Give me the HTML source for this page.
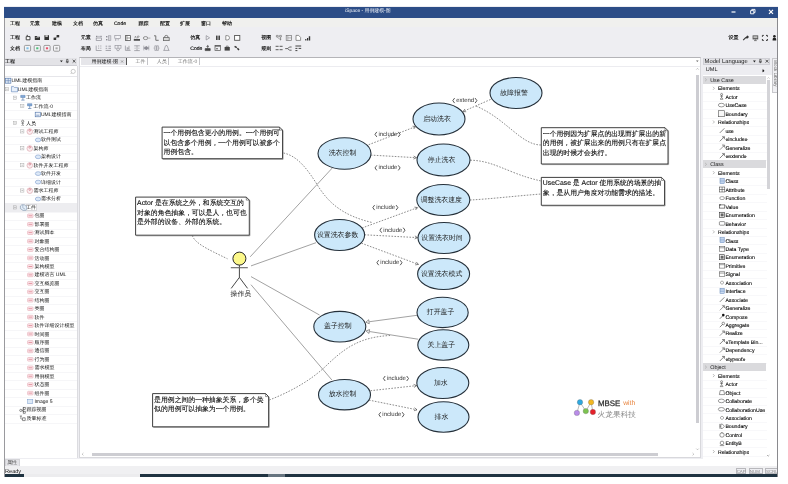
<!DOCTYPE html><html><head><meta charset="utf-8"><style>
*{margin:0;padding:0;box-sizing:border-box}
html,body{width:788px;height:484px;overflow:hidden;background:#fff;font-family:"Liberation Sans",sans-serif;color:#222;text-rendering:geometricPrecision}
.a{position:absolute;white-space:nowrap}
svg{position:absolute;left:0;top:0;overflow:visible}
</style></head><body><div style="position:absolute;left:0;top:0;width:788px;height:484px;will-change:transform">
<div class="a" style="left:4px;top:6px;width:774px;height:471px;background:#EEEEF2;"></div>
<div class="a" style="left:4px;top:6.6px;width:774.4px;height:11.2px;background:#2C4D87;"></div>
<div class="a" style="left:4px;top:18px;width:774px;height:9.2px;background:#F0F0EE;"></div>
<div class="a" style="left:345.2px;top:9.17px;font-size:4.9px;line-height:6.86px;color:#f4f6fa;font-weight:normal;">iSpace - 用例建模-图</div>
<div class="a" style="left:9.9px;top:21.20px;font-size:5px;line-height:7.00px;color:#111;font-weight:500;-webkit-text-stroke:0.15px #111">工程</div>
<div class="a" style="left:29.7px;top:21.20px;font-size:5px;line-height:7.00px;color:#111;font-weight:500;-webkit-text-stroke:0.15px #111">元素</div>
<div class="a" style="left:52px;top:21.20px;font-size:5px;line-height:7.00px;color:#111;font-weight:500;-webkit-text-stroke:0.15px #111">建模</div>
<div class="a" style="left:73px;top:21.20px;font-size:5px;line-height:7.00px;color:#111;font-weight:500;-webkit-text-stroke:0.15px #111">文档</div>
<div class="a" style="left:93px;top:21.20px;font-size:5px;line-height:7.00px;color:#111;font-weight:500;-webkit-text-stroke:0.15px #111">仿真</div>
<div class="a" style="left:114px;top:21.20px;font-size:5px;line-height:7.00px;color:#111;font-weight:500;-webkit-text-stroke:0.15px #111">Code</div>
<div class="a" style="left:138.6px;top:21.20px;font-size:5px;line-height:7.00px;color:#111;font-weight:500;-webkit-text-stroke:0.15px #111">跟踪</div>
<div class="a" style="left:160px;top:21.20px;font-size:5px;line-height:7.00px;color:#111;font-weight:500;-webkit-text-stroke:0.15px #111">配置</div>
<div class="a" style="left:180px;top:21.20px;font-size:5px;line-height:7.00px;color:#111;font-weight:500;-webkit-text-stroke:0.15px #111">扩展</div>
<div class="a" style="left:201px;top:21.20px;font-size:5px;line-height:7.00px;color:#111;font-weight:500;-webkit-text-stroke:0.15px #111">窗口</div>
<div class="a" style="left:222px;top:21.20px;font-size:5px;line-height:7.00px;color:#111;font-weight:500;-webkit-text-stroke:0.15px #111">帮助</div>
<div class="a" style="left:9.9px;top:35.10px;font-size:5px;line-height:7.00px;color:#111;font-weight:500;-webkit-text-stroke:0.15px #111">工程</div>
<div class="a" style="left:9.9px;top:45.80px;font-size:5px;line-height:7.00px;color:#111;font-weight:500;-webkit-text-stroke:0.15px #111">文档</div>
<div class="a" style="left:80.8px;top:35.10px;font-size:5px;line-height:7.00px;color:#111;font-weight:500;-webkit-text-stroke:0.15px #111">元素</div>
<div class="a" style="left:80.8px;top:45.80px;font-size:5px;line-height:7.00px;color:#111;font-weight:500;-webkit-text-stroke:0.15px #111">布局</div>
<div class="a" style="left:190.3px;top:35.10px;font-size:5px;line-height:7.00px;color:#111;font-weight:500;-webkit-text-stroke:0.15px #111">仿真</div>
<div class="a" style="left:190.3px;top:45.80px;font-size:5px;line-height:7.00px;color:#111;font-weight:500;-webkit-text-stroke:0.15px #111">Code</div>
<div class="a" style="left:261.3px;top:35.10px;font-size:5px;line-height:7.00px;color:#111;font-weight:500;-webkit-text-stroke:0.15px #111">视图</div>
<div class="a" style="left:261.3px;top:45.80px;font-size:5px;line-height:7.00px;color:#111;font-weight:500;-webkit-text-stroke:0.15px #111">规则</div>
<div class="a" style="left:728.5px;top:35.30px;font-size:5px;line-height:7.00px;color:#111;font-weight:500;-webkit-text-stroke:0.15px #111">设置</div>
<div class="a" style="left:5px;top:57.5px;width:72px;height:8px;background:#E3E3E7;border-bottom:1px solid #d0d0d6"></div>
<div class="a" style="left:5px;top:58.80px;font-size:5px;line-height:7.00px;color:#111;font-weight:500;-webkit-text-stroke:0.12px #111">工程</div>
<div class="a" style="left:5px;top:66px;width:72px;height:392px;background:#fff;"></div>
<div class="a" style="left:77px;top:66px;width:1px;height:392px;background:#dcdce0;"></div>
<div class="a" style="left:5px;top:76px;width:72px;height:0.6px;background:#e6e6ea;"></div>
<div class="a" style="left:5px;top:85.0px;width:72px;height:0.5px;background:#F6F6F8;"></div>
<div class="a" style="left:11.6px;top:78.30px;font-size:5px;line-height:7.00px;color:#111;font-weight:500;">UML建模指南</div>
<div class="a" style="left:5px;top:93.4px;width:72px;height:0.5px;background:#F6F6F8;"></div>
<div class="a" style="left:17.8px;top:86.74px;font-size:5px;line-height:7.00px;color:#111;font-weight:500;">UML建模指南</div>
<div class="a" style="left:5px;top:101.9px;width:72px;height:0.5px;background:#F6F6F8;"></div>
<div class="a" style="left:26px;top:95.18px;font-size:5px;line-height:7.00px;color:#111;font-weight:500;">工作流</div>
<div class="a" style="left:5px;top:110.3px;width:72px;height:0.5px;background:#F6F6F8;"></div>
<div class="a" style="left:33.5px;top:103.62px;font-size:5px;line-height:7.00px;color:#111;font-weight:500;">工作流-0</div>
<div class="a" style="left:5px;top:118.8px;width:72px;height:0.5px;background:#F6F6F8;"></div>
<div class="a" style="left:41px;top:112.06px;font-size:5px;line-height:7.00px;color:#111;font-weight:500;">UML建模指南</div>
<div class="a" style="left:5px;top:127.2px;width:72px;height:0.5px;background:#F6F6F8;"></div>
<div class="a" style="left:26px;top:120.50px;font-size:5px;line-height:7.00px;color:#111;font-weight:500;">人员</div>
<div class="a" style="left:5px;top:135.6px;width:72px;height:0.5px;background:#F6F6F8;"></div>
<div class="a" style="left:33.5px;top:128.94px;font-size:5px;line-height:7.00px;color:#111;font-weight:500;">测试工程师</div>
<div class="a" style="left:5px;top:144.1px;width:72px;height:0.5px;background:#F6F6F8;"></div>
<div class="a" style="left:41px;top:137.38px;font-size:5px;line-height:7.00px;color:#111;font-weight:500;">软件测试</div>
<div class="a" style="left:5px;top:152.5px;width:72px;height:0.5px;background:#F6F6F8;"></div>
<div class="a" style="left:33.5px;top:145.82px;font-size:5px;line-height:7.00px;color:#111;font-weight:500;">架构师</div>
<div class="a" style="left:5px;top:161.0px;width:72px;height:0.5px;background:#F6F6F8;"></div>
<div class="a" style="left:41px;top:154.26px;font-size:5px;line-height:7.00px;color:#111;font-weight:500;">架构设计</div>
<div class="a" style="left:5px;top:169.4px;width:72px;height:0.5px;background:#F6F6F8;"></div>
<div class="a" style="left:33.5px;top:162.70px;font-size:5px;line-height:7.00px;color:#111;font-weight:500;">软件开发工程师</div>
<div class="a" style="left:5px;top:177.8px;width:72px;height:0.5px;background:#F6F6F8;"></div>
<div class="a" style="left:41px;top:171.14px;font-size:5px;line-height:7.00px;color:#111;font-weight:500;">软件开发</div>
<div class="a" style="left:5px;top:186.3px;width:72px;height:0.5px;background:#F6F6F8;"></div>
<div class="a" style="left:41px;top:179.58px;font-size:5px;line-height:7.00px;color:#111;font-weight:500;">详细设计</div>
<div class="a" style="left:5px;top:194.7px;width:72px;height:0.5px;background:#F6F6F8;"></div>
<div class="a" style="left:33.5px;top:188.02px;font-size:5px;line-height:7.00px;color:#111;font-weight:500;">需求工程师</div>
<div class="a" style="left:5px;top:203.2px;width:72px;height:0.5px;background:#F6F6F8;"></div>
<div class="a" style="left:41px;top:196.46px;font-size:5px;line-height:7.00px;color:#111;font-weight:500;">需求分析</div>
<div class="a" style="left:5px;top:211.6px;width:72px;height:0.5px;background:#F6F6F8;"></div>
<div class="a" style="left:5px;top:203.2px;width:72px;height:8.4px;background:#EDEDF0;"></div>
<div class="a" style="left:26px;top:203.8px;width:11.2px;height:7.2px;background:#fff;border:0.5px solid #d8d8dc"></div>
<div class="a" style="left:26px;top:204.90px;font-size:5px;line-height:7.00px;color:#111;font-weight:500;">工件</div>
<div class="a" style="left:5px;top:220.0px;width:72px;height:0.5px;background:#F6F6F8;"></div>
<div class="a" style="left:34.4px;top:213.34px;font-size:5px;line-height:7.00px;color:#111;font-weight:500;">包图</div>
<div class="a" style="left:5px;top:228.5px;width:72px;height:0.5px;background:#F6F6F8;"></div>
<div class="a" style="left:34.4px;top:221.78px;font-size:5px;line-height:7.00px;color:#111;font-weight:500;">部署图</div>
<div class="a" style="left:5px;top:236.9px;width:72px;height:0.5px;background:#F6F6F8;"></div>
<div class="a" style="left:34.4px;top:230.22px;font-size:5px;line-height:7.00px;color:#111;font-weight:500;">测试脚本</div>
<div class="a" style="left:5px;top:245.4px;width:72px;height:0.5px;background:#F6F6F8;"></div>
<div class="a" style="left:34.4px;top:238.66px;font-size:5px;line-height:7.00px;color:#111;font-weight:500;">对象图</div>
<div class="a" style="left:5px;top:253.8px;width:72px;height:0.5px;background:#F6F6F8;"></div>
<div class="a" style="left:34.4px;top:247.10px;font-size:5px;line-height:7.00px;color:#111;font-weight:500;">复合结构图</div>
<div class="a" style="left:5px;top:262.2px;width:72px;height:0.5px;background:#F6F6F8;"></div>
<div class="a" style="left:34.4px;top:255.54px;font-size:5px;line-height:7.00px;color:#111;font-weight:500;">活动图</div>
<div class="a" style="left:5px;top:270.7px;width:72px;height:0.5px;background:#F6F6F8;"></div>
<div class="a" style="left:34.4px;top:263.98px;font-size:5px;line-height:7.00px;color:#111;font-weight:500;">架构模型</div>
<div class="a" style="left:5px;top:279.1px;width:72px;height:0.5px;background:#F6F6F8;"></div>
<div class="a" style="left:34.4px;top:272.42px;font-size:5px;line-height:7.00px;color:#111;font-weight:500;">建模语言 UML</div>
<div class="a" style="left:5px;top:287.6px;width:72px;height:0.5px;background:#F6F6F8;"></div>
<div class="a" style="left:34.4px;top:280.86px;font-size:5px;line-height:7.00px;color:#111;font-weight:500;">交互概览图</div>
<div class="a" style="left:5px;top:296.0px;width:72px;height:0.5px;background:#F6F6F8;"></div>
<div class="a" style="left:34.4px;top:289.30px;font-size:5px;line-height:7.00px;color:#111;font-weight:500;">交互图</div>
<div class="a" style="left:5px;top:304.4px;width:72px;height:0.5px;background:#F6F6F8;"></div>
<div class="a" style="left:34.4px;top:297.74px;font-size:5px;line-height:7.00px;color:#111;font-weight:500;">结构图</div>
<div class="a" style="left:5px;top:312.9px;width:72px;height:0.5px;background:#F6F6F8;"></div>
<div class="a" style="left:34.4px;top:306.18px;font-size:5px;line-height:7.00px;color:#111;font-weight:500;">类图</div>
<div class="a" style="left:5px;top:321.3px;width:72px;height:0.5px;background:#F6F6F8;"></div>
<div class="a" style="left:34.4px;top:314.62px;font-size:5px;line-height:7.00px;color:#111;font-weight:500;">软件</div>
<div class="a" style="left:5px;top:329.8px;width:72px;height:0.5px;background:#F6F6F8;"></div>
<div class="a" style="left:34.4px;top:323.06px;font-size:5px;line-height:7.00px;color:#111;font-weight:500;">软件详细设计模型</div>
<div class="a" style="left:5px;top:338.2px;width:72px;height:0.5px;background:#F6F6F8;"></div>
<div class="a" style="left:34.4px;top:331.50px;font-size:5px;line-height:7.00px;color:#111;font-weight:500;">时间图</div>
<div class="a" style="left:5px;top:346.6px;width:72px;height:0.5px;background:#F6F6F8;"></div>
<div class="a" style="left:34.4px;top:339.94px;font-size:5px;line-height:7.00px;color:#111;font-weight:500;">顺序图</div>
<div class="a" style="left:5px;top:355.1px;width:72px;height:0.5px;background:#F6F6F8;"></div>
<div class="a" style="left:34.4px;top:348.38px;font-size:5px;line-height:7.00px;color:#111;font-weight:500;">通信图</div>
<div class="a" style="left:5px;top:363.5px;width:72px;height:0.5px;background:#F6F6F8;"></div>
<div class="a" style="left:34.4px;top:356.82px;font-size:5px;line-height:7.00px;color:#111;font-weight:500;">行为图</div>
<div class="a" style="left:5px;top:372.0px;width:72px;height:0.5px;background:#F6F6F8;"></div>
<div class="a" style="left:34.4px;top:365.26px;font-size:5px;line-height:7.00px;color:#111;font-weight:500;">需求模型</div>
<div class="a" style="left:5px;top:380.4px;width:72px;height:0.5px;background:#F6F6F8;"></div>
<div class="a" style="left:34.4px;top:373.70px;font-size:5px;line-height:7.00px;color:#111;font-weight:500;">用例模型</div>
<div class="a" style="left:5px;top:388.8px;width:72px;height:0.5px;background:#F6F6F8;"></div>
<div class="a" style="left:34.4px;top:382.14px;font-size:5px;line-height:7.00px;color:#111;font-weight:500;">状态图</div>
<div class="a" style="left:5px;top:397.3px;width:72px;height:0.5px;background:#F6F6F8;"></div>
<div class="a" style="left:34.4px;top:390.58px;font-size:5px;line-height:7.00px;color:#111;font-weight:500;">组件图</div>
<div class="a" style="left:5px;top:405.7px;width:72px;height:0.5px;background:#F6F6F8;"></div>
<div class="a" style="left:34.4px;top:399.02px;font-size:5px;line-height:7.00px;color:#111;font-weight:500;">Image 5</div>
<div class="a" style="left:5px;top:414.2px;width:72px;height:0.5px;background:#F6F6F8;"></div>
<div class="a" style="left:26.5px;top:407.46px;font-size:5px;line-height:7.00px;color:#111;font-weight:500;">跟踪视图</div>
<div class="a" style="left:5px;top:422.6px;width:72px;height:0.5px;background:#F6F6F8;"></div>
<div class="a" style="left:26.5px;top:415.90px;font-size:5px;line-height:7.00px;color:#111;font-weight:500;">质量标准</div>
<div class="a" style="left:79.4px;top:56.6px;width:622px;height:401.4px;background:#fff;border:1px solid #d8d8dc;border-top:1px solid #b4b4b8"></div>
<div class="a" style="left:80.6px;top:57.7px;width:45.4px;height:7.6px;background:#E6E6EA;"></div>
<div class="a" style="left:91.6px;top:59.00px;font-size:5px;line-height:7.00px;color:#111;font-weight:500;">用例建模-图</div>
<div class="a" style="left:126px;top:57.7px;width:0.8px;height:7.6px;background:#555;"></div>
<div class="a" style="left:135.5px;top:59.00px;font-size:5px;line-height:7.00px;color:#777;font-weight:normal;">工件</div>
<div class="a" style="left:147px;top:58.2px;width:0.5px;height:6.6px;background:#c4c4c8;"></div>
<div class="a" style="left:156.8px;top:59.00px;font-size:5px;line-height:7.00px;color:#777;font-weight:normal;">人员</div>
<div class="a" style="left:168.2px;top:58.2px;width:0.5px;height:6.6px;background:#c4c4c8;"></div>
<div class="a" style="left:177.8px;top:59.00px;font-size:5px;line-height:7.00px;color:#777;font-weight:normal;">工作流-0</div>
<div class="a" style="left:199px;top:58.2px;width:0.5px;height:6.6px;background:#c4c4c8;"></div>
<div class="a" style="left:80.4px;top:65.6px;width:620px;height:0.6px;background:#ececf0;"></div>
<div class="a" style="left:696.2px;top:74.5px;width:2.8px;height:348.6px;background:#CDCDD2;"></div>
<div class="a" style="left:91.6px;top:452.8px;width:566.2px;height:2.8px;background:#CDCDD2;"></div>
<div class="a" style="left:702.6px;top:57.5px;width:67.8px;height:7.6px;background:#E3E3E7;border:1px solid #d0d0d6"></div>
<div class="a" style="left:704.6px;top:58.04px;font-size:5.8px;line-height:8.12px;color:#222;font-weight:normal;">Model Language</div>
<div class="a" style="left:702.6px;top:65.2px;width:67.8px;height:10px;background:#EDEDF1;"></div>
<div class="a" style="left:705.8px;top:67.28px;font-size:5.6px;line-height:7.84px;color:#222;font-weight:normal;">UML</div>
<div class="a" style="left:702.6px;top:75.3px;width:74.6px;height:391.5px;background:#fff;"></div>
<div class="a" style="left:766.7px;top:80.3px;width:2.9px;height:108.9px;background:#D4D4D8;"></div>
<div class="a" style="left:771.7px;top:57.5px;width:6.3px;height:35.7px;background:#F0F0F3;border:1px solid #c8c8cc"></div>
<div class="a" style="left:771.6px;top:58.5px;width:6.5px;height:34px;font-size:4.6px;line-height:6.3px;color:#666;writing-mode:vertical-rl;text-align:left;padding-top:1.5px">Block Library</div>
<div class="a" style="left:703.4px;top:75.5px;width:62.8px;height:8.4px;background:#DADADD;"></div>
<div class="a" style="left:710.2px;top:77.82px;font-size:5.4px;line-height:7.56px;color:#222;font-weight:normal;">Use Case</div>
<div class="a" style="left:703.2px;top:92.3px;width:63.4px;height:0.5px;background:#F8F8FA;"></div>
<div class="a" style="left:717.9px;top:86.41px;font-size:5.2px;line-height:7.28px;color:#000;font-weight:normal;-webkit-text-stroke:0.1px #000">Elements</div>
<div class="a" style="left:703.2px;top:100.8px;width:63.4px;height:0.5px;background:#F8F8FA;"></div>
<div class="a" style="left:725.4px;top:94.86px;font-size:5.2px;line-height:7.28px;color:#000;font-weight:normal;-webkit-text-stroke:0.1px #000">Actor</div>
<div class="a" style="left:703.2px;top:109.2px;width:63.4px;height:0.5px;background:#F8F8FA;"></div>
<div class="a" style="left:725.4px;top:103.31px;font-size:5.2px;line-height:7.28px;color:#000;font-weight:normal;-webkit-text-stroke:0.1px #000">UseCase</div>
<div class="a" style="left:703.2px;top:117.7px;width:63.4px;height:0.5px;background:#F8F8FA;"></div>
<div class="a" style="left:725.4px;top:111.76px;font-size:5.2px;line-height:7.28px;color:#000;font-weight:normal;-webkit-text-stroke:0.1px #000">Boundary</div>
<div class="a" style="left:703.2px;top:126.1px;width:63.4px;height:0.5px;background:#F8F8FA;"></div>
<div class="a" style="left:717.9px;top:120.21px;font-size:5.2px;line-height:7.28px;color:#000;font-weight:normal;-webkit-text-stroke:0.1px #000">Relationships</div>
<div class="a" style="left:703.2px;top:134.6px;width:63.4px;height:0.5px;background:#F8F8FA;"></div>
<div class="a" style="left:725.4px;top:128.66px;font-size:5.2px;line-height:7.28px;color:#000;font-weight:normal;-webkit-text-stroke:0.1px #000">use</div>
<div class="a" style="left:703.2px;top:143.0px;width:63.4px;height:0.5px;background:#F8F8FA;"></div>
<div class="a" style="left:725.4px;top:137.11px;font-size:5.2px;line-height:7.28px;color:#000;font-weight:normal;-webkit-text-stroke:0.1px #000">«include»</div>
<div class="a" style="left:703.2px;top:151.5px;width:63.4px;height:0.5px;background:#F8F8FA;"></div>
<div class="a" style="left:725.4px;top:145.56px;font-size:5.2px;line-height:7.28px;color:#000;font-weight:normal;-webkit-text-stroke:0.1px #000">Generalize</div>
<div class="a" style="left:703.2px;top:159.9px;width:63.4px;height:0.5px;background:#F8F8FA;"></div>
<div class="a" style="left:725.4px;top:154.01px;font-size:5.2px;line-height:7.28px;color:#000;font-weight:normal;-webkit-text-stroke:0.1px #000">«extend»</div>
<div class="a" style="left:703.4px;top:160.0px;width:62.8px;height:8.4px;background:#DADADD;"></div>
<div class="a" style="left:710.2px;top:162.32px;font-size:5.4px;line-height:7.56px;color:#222;font-weight:normal;">Class</div>
<div class="a" style="left:703.2px;top:176.8px;width:63.4px;height:0.5px;background:#F8F8FA;"></div>
<div class="a" style="left:717.9px;top:170.91px;font-size:5.2px;line-height:7.28px;color:#000;font-weight:normal;-webkit-text-stroke:0.1px #000">Elements</div>
<div class="a" style="left:703.2px;top:185.3px;width:63.4px;height:0.5px;background:#F8F8FA;"></div>
<div class="a" style="left:725.4px;top:179.36px;font-size:5.2px;line-height:7.28px;color:#000;font-weight:normal;-webkit-text-stroke:0.1px #000">Class</div>
<div class="a" style="left:703.2px;top:193.7px;width:63.4px;height:0.5px;background:#F8F8FA;"></div>
<div class="a" style="left:725.4px;top:187.81px;font-size:5.2px;line-height:7.28px;color:#000;font-weight:normal;-webkit-text-stroke:0.1px #000">Attribute</div>
<div class="a" style="left:703.2px;top:202.2px;width:63.4px;height:0.5px;background:#F8F8FA;"></div>
<div class="a" style="left:725.4px;top:196.26px;font-size:5.2px;line-height:7.28px;color:#000;font-weight:normal;-webkit-text-stroke:0.1px #000">Function</div>
<div class="a" style="left:703.2px;top:210.6px;width:63.4px;height:0.5px;background:#F8F8FA;"></div>
<div class="a" style="left:725.4px;top:204.71px;font-size:5.2px;line-height:7.28px;color:#000;font-weight:normal;-webkit-text-stroke:0.1px #000">Value</div>
<div class="a" style="left:703.2px;top:219.1px;width:63.4px;height:0.5px;background:#F8F8FA;"></div>
<div class="a" style="left:725.4px;top:213.16px;font-size:5.2px;line-height:7.28px;color:#000;font-weight:normal;-webkit-text-stroke:0.1px #000">Enumeration</div>
<div class="a" style="left:703.2px;top:227.5px;width:63.4px;height:0.5px;background:#F8F8FA;"></div>
<div class="a" style="left:725.4px;top:221.61px;font-size:5.2px;line-height:7.28px;color:#000;font-weight:normal;-webkit-text-stroke:0.1px #000">Behavior</div>
<div class="a" style="left:703.2px;top:236.0px;width:63.4px;height:0.5px;background:#F8F8FA;"></div>
<div class="a" style="left:717.9px;top:230.06px;font-size:5.2px;line-height:7.28px;color:#000;font-weight:normal;-webkit-text-stroke:0.1px #000">Relationships</div>
<div class="a" style="left:703.2px;top:244.4px;width:63.4px;height:0.5px;background:#F8F8FA;"></div>
<div class="a" style="left:725.4px;top:238.51px;font-size:5.2px;line-height:7.28px;color:#000;font-weight:normal;-webkit-text-stroke:0.1px #000">Class</div>
<div class="a" style="left:703.2px;top:252.9px;width:63.4px;height:0.5px;background:#F8F8FA;"></div>
<div class="a" style="left:725.4px;top:246.96px;font-size:5.2px;line-height:7.28px;color:#000;font-weight:normal;-webkit-text-stroke:0.1px #000">Data Type</div>
<div class="a" style="left:703.2px;top:261.4px;width:63.4px;height:0.5px;background:#F8F8FA;"></div>
<div class="a" style="left:725.4px;top:255.41px;font-size:5.2px;line-height:7.28px;color:#000;font-weight:normal;-webkit-text-stroke:0.1px #000">Enumeration</div>
<div class="a" style="left:703.2px;top:269.8px;width:63.4px;height:0.5px;background:#F8F8FA;"></div>
<div class="a" style="left:725.4px;top:263.86px;font-size:5.2px;line-height:7.28px;color:#000;font-weight:normal;-webkit-text-stroke:0.1px #000">Primitive</div>
<div class="a" style="left:703.2px;top:278.2px;width:63.4px;height:0.5px;background:#F8F8FA;"></div>
<div class="a" style="left:725.4px;top:272.31px;font-size:5.2px;line-height:7.28px;color:#000;font-weight:normal;-webkit-text-stroke:0.1px #000">Signal</div>
<div class="a" style="left:703.2px;top:286.7px;width:63.4px;height:0.5px;background:#F8F8FA;"></div>
<div class="a" style="left:725.4px;top:280.76px;font-size:5.2px;line-height:7.28px;color:#000;font-weight:normal;-webkit-text-stroke:0.1px #000">Association</div>
<div class="a" style="left:703.2px;top:295.1px;width:63.4px;height:0.5px;background:#F8F8FA;"></div>
<div class="a" style="left:725.4px;top:289.21px;font-size:5.2px;line-height:7.28px;color:#000;font-weight:normal;-webkit-text-stroke:0.1px #000">Interface</div>
<div class="a" style="left:703.2px;top:303.6px;width:63.4px;height:0.5px;background:#F8F8FA;"></div>
<div class="a" style="left:725.4px;top:297.66px;font-size:5.2px;line-height:7.28px;color:#000;font-weight:normal;-webkit-text-stroke:0.1px #000">Associate</div>
<div class="a" style="left:703.2px;top:312.1px;width:63.4px;height:0.5px;background:#F8F8FA;"></div>
<div class="a" style="left:725.4px;top:306.11px;font-size:5.2px;line-height:7.28px;color:#000;font-weight:normal;-webkit-text-stroke:0.1px #000">Generalize</div>
<div class="a" style="left:703.2px;top:320.5px;width:63.4px;height:0.5px;background:#F8F8FA;"></div>
<div class="a" style="left:725.4px;top:314.56px;font-size:5.2px;line-height:7.28px;color:#000;font-weight:normal;-webkit-text-stroke:0.1px #000">Compose</div>
<div class="a" style="left:703.2px;top:328.9px;width:63.4px;height:0.5px;background:#F8F8FA;"></div>
<div class="a" style="left:725.4px;top:323.01px;font-size:5.2px;line-height:7.28px;color:#000;font-weight:normal;-webkit-text-stroke:0.1px #000">Aggregate</div>
<div class="a" style="left:703.2px;top:337.4px;width:63.4px;height:0.5px;background:#F8F8FA;"></div>
<div class="a" style="left:725.4px;top:331.46px;font-size:5.2px;line-height:7.28px;color:#000;font-weight:normal;-webkit-text-stroke:0.1px #000">Realize</div>
<div class="a" style="left:703.2px;top:345.9px;width:63.4px;height:0.5px;background:#F8F8FA;"></div>
<div class="a" style="left:725.4px;top:339.91px;font-size:5.2px;line-height:7.28px;color:#000;font-weight:normal;-webkit-text-stroke:0.1px #000">«Template Bin...</div>
<div class="a" style="left:703.2px;top:354.3px;width:63.4px;height:0.5px;background:#F8F8FA;"></div>
<div class="a" style="left:725.4px;top:348.36px;font-size:5.2px;line-height:7.28px;color:#000;font-weight:normal;-webkit-text-stroke:0.1px #000">Dependency</div>
<div class="a" style="left:703.2px;top:362.8px;width:63.4px;height:0.5px;background:#F8F8FA;"></div>
<div class="a" style="left:725.4px;top:356.81px;font-size:5.2px;line-height:7.28px;color:#000;font-weight:normal;-webkit-text-stroke:0.1px #000">«typeof»</div>
<div class="a" style="left:703.4px;top:362.8px;width:62.8px;height:8.4px;background:#DADADD;"></div>
<div class="a" style="left:710.2px;top:365.12px;font-size:5.4px;line-height:7.56px;color:#222;font-weight:normal;">Object</div>
<div class="a" style="left:703.2px;top:379.7px;width:63.4px;height:0.5px;background:#F8F8FA;"></div>
<div class="a" style="left:717.9px;top:373.71px;font-size:5.2px;line-height:7.28px;color:#000;font-weight:normal;-webkit-text-stroke:0.1px #000">Elements</div>
<div class="a" style="left:703.2px;top:388.1px;width:63.4px;height:0.5px;background:#F8F8FA;"></div>
<div class="a" style="left:725.4px;top:382.16px;font-size:5.2px;line-height:7.28px;color:#000;font-weight:normal;-webkit-text-stroke:0.1px #000">Actor</div>
<div class="a" style="left:703.2px;top:396.6px;width:63.4px;height:0.5px;background:#F8F8FA;"></div>
<div class="a" style="left:725.4px;top:390.61px;font-size:5.2px;line-height:7.28px;color:#000;font-weight:normal;-webkit-text-stroke:0.1px #000">Object</div>
<div class="a" style="left:703.2px;top:405.0px;width:63.4px;height:0.5px;background:#F8F8FA;"></div>
<div class="a" style="left:725.4px;top:399.06px;font-size:5.2px;line-height:7.28px;color:#000;font-weight:normal;-webkit-text-stroke:0.1px #000">Collaborate</div>
<div class="a" style="left:703.2px;top:413.4px;width:63.4px;height:0.5px;background:#F8F8FA;"></div>
<div class="a" style="left:725.4px;top:407.51px;font-size:5.2px;line-height:7.28px;color:#000;font-weight:normal;-webkit-text-stroke:0.1px #000">CollaborationUse</div>
<div class="a" style="left:703.2px;top:421.9px;width:63.4px;height:0.5px;background:#F8F8FA;"></div>
<div class="a" style="left:725.4px;top:415.96px;font-size:5.2px;line-height:7.28px;color:#000;font-weight:normal;-webkit-text-stroke:0.1px #000">Association</div>
<div class="a" style="left:703.2px;top:430.4px;width:63.4px;height:0.5px;background:#F8F8FA;"></div>
<div class="a" style="left:725.4px;top:424.41px;font-size:5.2px;line-height:7.28px;color:#000;font-weight:normal;-webkit-text-stroke:0.1px #000">Boundary</div>
<div class="a" style="left:703.2px;top:438.8px;width:63.4px;height:0.5px;background:#F8F8FA;"></div>
<div class="a" style="left:725.4px;top:432.86px;font-size:5.2px;line-height:7.28px;color:#000;font-weight:normal;-webkit-text-stroke:0.1px #000">Control</div>
<div class="a" style="left:703.2px;top:447.2px;width:63.4px;height:0.5px;background:#F8F8FA;"></div>
<div class="a" style="left:725.4px;top:441.31px;font-size:5.2px;line-height:7.28px;color:#000;font-weight:normal;-webkit-text-stroke:0.1px #000">EntityB</div>
<div class="a" style="left:703.2px;top:455.7px;width:63.4px;height:0.5px;background:#F8F8FA;"></div>
<div class="a" style="left:717.9px;top:449.76px;font-size:5.2px;line-height:7.28px;color:#000;font-weight:normal;-webkit-text-stroke:0.1px #000">Relationships</div>
<div class="a" style="left:5px;top:458.6px;width:14.5px;height:7.6px;background:#E4E4E8;border:1px solid #d4d4d8;border-bottom:none"></div>
<div class="a" style="left:7px;top:459.90px;font-size:5px;line-height:7.00px;color:#555;font-weight:normal;">属性</div>
<div class="a" style="left:19.5px;top:458.6px;width:757.5px;height:7.6px;background:#fff;"></div>
<div class="a" style="left:5px;top:466.2px;width:772px;height:7.8px;background:#F0F0F2;"></div>
<div class="a" style="left:5px;top:469.28px;font-size:5.6px;line-height:7.84px;color:#222;font-weight:normal;">Ready</div>
<div class="a" style="left:735.5px;top:467.6px;width:10.899999999999977px;height:6.4px;background:#EEEEF2;border:0.6px solid #b8b8bc"></div>
<div class="a" style="left:736.7px;top:468.52px;font-size:4.4px;line-height:6.16px;color:#8a8a8a;font-weight:normal;">CAP</div>
<div class="a" style="left:748.6px;top:467.6px;width:14.5px;height:6.4px;background:#EEEEF2;border:0.6px solid #b8b8bc"></div>
<div class="a" style="left:749.8000000000001px;top:468.52px;font-size:4.4px;line-height:6.16px;color:#8a8a8a;font-weight:normal;">NUM</div>
<div class="a" style="left:764.8px;top:467.6px;width:12.800000000000068px;height:6.4px;background:#EEEEF2;border:0.6px solid #b8b8bc"></div>
<div class="a" style="left:766.0px;top:468.52px;font-size:4.4px;line-height:6.16px;color:#8a8a8a;font-weight:normal;">SCRL</div>
<div class="a" style="left:4px;top:473.8px;width:20px;height:3.4px;background:#1F3341;"></div>
<div class="a" style="left:24px;top:473.8px;width:116px;height:3.4px;background:#ECECEE;"></div>
<div class="a" style="left:140px;top:473.8px;width:128px;height:3.4px;background:#1F3341;"></div>
<div class="a" style="left:268px;top:473.8px;width:17px;height:3.4px;background:#66747F;"></div>
<div class="a" style="left:285px;top:473.8px;width:493.4px;height:3.4px;background:#1F3341;"></div>
<div class="a" style="left:4px;top:17.8px;width:1px;height:459.2px;background:#9a9a9e;"></div>
<div class="a" style="left:777.2px;top:17.8px;width:1.2px;height:459.2px;background:#8a8a8e;"></div>
<svg width="788" height="484"><line x1="731.5" y1="12" x2="735.5" y2="12" stroke="#fff" stroke-width="1.2"/><path d="M750.6 10.6 h3.2 v3.2 h-3.2z M751.8 10.6 v-1.2 h3.2 v3.2 h-1.2" fill="none" stroke="#fff" stroke-width="0.9"/><path d="M769 9.8 l4 4 M773 9.8 l-4 4" stroke="#fff" stroke-width="1.2"/><path d="M26.2 36.6 h3.8 v3.2 h-3.8z" fill="#fff" stroke="#333" stroke-width="0.9"/><path d="M26.6 35.4 h1.4" stroke="#333" stroke-width="0.8"/><path d="M34.8 36 h2 l0.6 0.7 h2.6 v3.2 h-5.2z" fill="#333"/><path d="M35.6 37.4 h3.6" stroke="#ddd" stroke-width="0.5"/><path d="M44.4 35.2 h4.6 v4.8 h-4.6z" fill="#333"/><rect x="45.4" y="35.2" width="2.4" height="1.7" fill="#d8d8d8"/><rect x="53.6" y="37.6" width="2.6" height="2.4" fill="#333"/><rect x="56.6" y="35" width="2.6" height="2.4" fill="#333"/><path d="M55.8 37.8 l1.2-1.2" stroke="#333" stroke-width="0.6"/><rect x="24.4" y="45.4" width="6.2" height="5.8" rx="1.1" fill="#f4f4f7" stroke="#777" stroke-width="0.7"/><rect x="26.4" y="47.3" width="2.2" height="2" fill="#7cc0e8"/><rect x="34.199999999999996" y="45.4" width="6.2" height="5.8" rx="1.1" fill="#f4f4f7" stroke="#777" stroke-width="0.7"/><rect x="36.199999999999996" y="47.3" width="2.2" height="2" fill="#4cbf7a"/><rect x="43.9" y="45.4" width="6.2" height="5.8" rx="1.1" fill="#f4f4f7" stroke="#777" stroke-width="0.7"/><rect x="45.9" y="47.3" width="2.2" height="2" fill="#e8506a"/><rect x="53.5" y="45.4" width="6.2" height="5.8" rx="1.1" fill="#f4f4f7" stroke="#777" stroke-width="0.7"/><rect x="55.5" y="47.3" width="2.2" height="2" fill="#aaa"/><rect x="96.2" y="38" width="5.4" height="2.6" fill="none" stroke="#8c8c94" stroke-width="0.7"/><rect x="96" y="35.8" width="1.3" height="1.3" fill="#8c8c94"/><rect x="100.4" y="35.8" width="1.3" height="1.3" fill="#8c8c94"/><path d="M97.3 36.4 h3.1" stroke="#8c8c94" stroke-width="0.5"/><rect x="106" y="36" width="1.4" height="1.4" fill="#8c8c94"/><rect x="106" y="39" width="1.4" height="1.4" fill="#8c8c94"/><rect x="108.4" y="35.8" width="2.5" height="4.8" fill="#d4d4da" stroke="#8c8c94" stroke-width="0.5"/><rect x="114.8" y="35.6" width="5.6" height="2.8" fill="none" stroke="#8c8c94" stroke-width="0.6"/><rect x="117" y="36.4" width="1.4" height="1.2" fill="#fff"/><path d="M115.2 39.8 h1.2 M117.6 39.8 h1.2 M115.6 40.6 v-1" stroke="#8c8c94" stroke-width="0.7"/><rect x="125.4" y="35.6" width="5" height="4.8" fill="#fff" stroke="#555" stroke-width="0.8"/><path d="M126.9 35.6 v4.8 M126.9 38 h3.5" stroke="#555" stroke-width="0.6"/><rect x="133.8" y="39.2" width="6.2" height="1.4" fill="#222"/><path d="M134.6 38.4 l0.9-2.4 l0.9 2.4 M137.6 38.4 v-2.4 h1 a0.6 0.6 0 0 1 0 1.2 h-1" fill="none" stroke="#666" stroke-width="0.5"/><ellipse cx="145.6" cy="38.1" rx="2.3" ry="1.5" fill="none" stroke="#777" stroke-width="0.8"/><path d="M148.4 38.1 h2" stroke="#999" stroke-width="0.8"/><path d="M154 35.8 h1.8 v4.5 h2.9" fill="none" stroke="#666" stroke-width="0.9"/><rect x="163.4" y="37.6" width="5.8" height="3" fill="#fff" stroke="#666" stroke-width="0.8"/><path d="M164.6 37.6 v-0.6 a1.7 1.6 0 0 1 3.4 0 v0.6" fill="none" stroke="#666" stroke-width="0.8"/><path d="M163.4 39 h5.8" stroke="#666" stroke-width="0.5"/><path d="M96.2 45.6 v5 M96.2 50.5 h5.4 M98 46 h1.2 M100.2 46 h1.2 M98 48.2 h1.2 M100.2 48.2 h1.2" fill="none" stroke="#8c8c94" stroke-width="0.7"/><path d="M105.6 46.2 h1.6 M108.4 46.2 h2.6 M105.6 48.3 h1.6 M108.4 48.3 h2.6 M105.6 50.4 h5.4" fill="none" stroke="#8c8c94" stroke-width="0.8"/><rect x="115" y="45.4" width="6" height="2.8" fill="none" stroke="#8c8c94" stroke-width="0.6"/><path d="M118 45.4 v2.8 M116.2 49.4 h1.2 M118.8 49.4 h1.2 M116.8 50.6 h2.4" stroke="#8c8c94" stroke-width="0.7"/><path d="M125.4 45.6 v4.8 h5.2 M127.2 47.2 v3 M129 45.8 v4.4 M127.2 48.2 h1.8" fill="none" stroke="#8c8c94" stroke-width="0.7"/><path d="M134.2 45.8 h5.6 M134.2 50.6 h5.6 M137 45.8 v4.8 M134.6 48.2 h1 M138.4 48.2 h1" fill="none" stroke="#8c8c94" stroke-width="0.7"/><path d="M143.8 45.6 v4.8 M148.8 45.6 v4.8 M143.8 48.1 l2.5-1.6 v3.2z M148.8 48.1 l-2.5-1.6 v3.2z" fill="#8c8c94" stroke="#8c8c94" stroke-width="0.6"/><path d="M153.6 48.1 h1 M158.6 48.1 h1 M154.8 45.8 h1.6 v4.6 h-1.6z M156.8 45.8 h1.6 v4.6 h-1.6z" fill="none" stroke="#8c8c94" stroke-width="0.6"/><path d="M163.4 50.4 h6 M164 50.4 l1.2-3.6 a1.2 1.2 0 0 1 2.4 0 l1.2 3.6 M166.4 45.2 v0.8" fill="none" stroke="#8c8c94" stroke-width="0.7"/><path d="M206.2 35.6 l3.4 2.2 l-3.4 2.2z" fill="none" stroke="#8a8a90" stroke-width="0.7"/><rect x="216" y="35.6" width="1.6" height="4.4" fill="#444"/><rect x="218.4" y="35.6" width="1.6" height="4.4" fill="#444"/><path d="M225.8 35.6 h1.4 a2.3 2.2 0 0 1 0 4.4 h-1.4z" fill="#fff" stroke="#777" stroke-width="0.8"/><rect x="234.6" y="35.5" width="5.2" height="4.8" fill="#fff" stroke="#555" stroke-width="0.9"/><path d="M205.2 50.6 h5 v-2 h-5z M207.7 48.6 v-2.8 M206.6 46.6 l1.1-1.1 l1.1 1.1" fill="#444" stroke="#444" stroke-width="0.7"/><rect x="215" y="45.4" width="5.4" height="5" fill="none" stroke="#555" stroke-width="0.7"/><rect x="215" y="45.4" width="5.4" height="1.2" fill="#555"/><rect x="216" y="48" width="2" height="1.4" fill="#888"/><rect x="224.6" y="47" width="5.2" height="3.6" fill="#444"/><path d="M226.2 47 v-0.9 h2 v0.9" fill="none" stroke="#444" stroke-width="0.6"/><path d="M234.6 46.4 l2.2 1.2 M237.4 48.2 l1.6 1.8" stroke="#333" stroke-width="1.5"/><path d="M276.4 35.4 h1.8 v1.6 h-1.8z M279.6 35.4 h1.8 v1.6 h-1.8z M280.5 37.2 v3.2 M277.6 37.2 l2 2 M279.6 39.2 h1.8" fill="none" stroke="#666" stroke-width="0.6"/><rect x="286.2" y="35.4" width="5.4" height="5" fill="none" stroke="#777" stroke-width="0.7"/><path d="M287.8 35.4 v5 M287.8 37.9 h3.8" stroke="#888" stroke-width="0.6"/><path d="M296 35.4 h2.6 l2 2 v3 h-4.6z" fill="#fff" stroke="#666" stroke-width="0.7"/><path d="M305.2 39 h1.2 v1.4 h-1.2z M307 38 h1.2 v2.4 h-1.2z M308.8 36.2 h1.4 v4.2 h-1.4z" fill="#333"/><path d="M275.6 46.4 h3 M279.6 46.4 h3 M275.6 49.6 h3 M279.6 49.6 h3" stroke="#777" stroke-width="1.3"/><path d="M285.2 48.6 h2.6 M287.8 48.6 l1.6-1.6 h2.2 M287.8 48.6 l1.6 1.6 h2.2" fill="none" stroke="#555" stroke-width="0.9"/><path d="M295.4 46 h5.8 M295.4 48.4 h2 M298.6 48.4 h2.6 M295.4 50.6 h2" fill="none" stroke="#444" stroke-width="1"/><path d="M743.2 40.2 l2.8-2.8" stroke="#333" stroke-width="1.1"/><path d="M745.6 37.6 a1.6 1.6 0 1 0 1.6-2.2 l-0.8 1 z" fill="#333"/><rect x="752.6" y="35.4" width="5.6" height="4" fill="#555"/><rect x="753.4" y="36.2" width="4" height="2" fill="#bbb"/><path d="M755.4 39.4 v1 M754 40.6 h2.8" stroke="#555" stroke-width="0.7"/><path d="M762.4 35.4 h1.4 M762.4 35.4 v1.4 M767.4 35.4 h-1.4 M767.4 35.4 v1.4 M762.4 40.4 h1.4 M762.4 40.4 v-1.4 M767.4 40.4 h-1.4 M767.4 40.4 v-1.4" stroke="#333" stroke-width="1"/><circle cx="774.4" cy="36.2" r="1.3" fill="#222"/><path d="M772.6 40.4 v-1.2 a1.8 1.6 0 0 1 3.6 0 v1.2z" fill="#222"/><path d="M60 60.5 h2.8 l-1.4 1.8z" fill="#222"/><path d="M66.6 59.4 h1.4 v2.6 h-1.4z M65.8 62 h3 M67.3 62 v1.2" fill="none" stroke="#333" stroke-width="0.6"/><path d="M72.7 59.8 l2.8 2.8 M75.5 59.8 l-2.8 2.8" stroke="#333" stroke-width="0.8"/><circle cx="73.2" cy="71.4" r="2.1" fill="none" stroke="#aaa" stroke-width="0.6"/><path d="M71.7 72.9 l-1 1" stroke="#aaa" stroke-width="0.7"/><rect x="5.5" y="78.2" width="5.4" height="5" fill="#dfe9f6" stroke="#4a6fa5" stroke-width="0.6"/><path d="M8.2 78.2 v5 M5.5 80.7 h5.4" stroke="#4a6fa5" stroke-width="0.5"/><rect x="5.4" y="87.6" width="3.2" height="3.2" fill="none" stroke="#aaa" stroke-width="0.5"/><path d="M6.1 89.2 h1.8" stroke="#888" stroke-width="0.5"/><path d="M11.4 86.6 h2.2 l0.8 0.8 h3.2 v4.4 h-6.2z" fill="#e8f0fa" stroke="#5a7fb5" stroke-width="0.6"/><rect x="13.4" y="96.1" width="3.2" height="3.2" fill="none" stroke="#aaa" stroke-width="0.5"/><path d="M14.1 97.7 h1.8" stroke="#888" stroke-width="0.5"/><path d="M20.7 95.3 h4.4 v2.2 h-4.4z" fill="#7fa8d8" stroke="#4a6fa5" stroke-width="0.4"/><path d="M22.9 97.5 v2.6 M21.2 100.1 h3.4" stroke="#4a6fa5" stroke-width="0.6"/><rect x="20.7" y="104.5" width="3.2" height="3.2" fill="none" stroke="#aaa" stroke-width="0.5"/><path d="M21.400000000000002 106.1 h1.8" stroke="#888" stroke-width="0.5"/><path d="M27.5 103.7 h4.4 v2.2 h-4.4z" fill="#7fa8d8" stroke="#4a6fa5" stroke-width="0.4"/><path d="M29.7 105.9 v2.6 M28 108.5 h3.4" stroke="#4a6fa5" stroke-width="0.6"/><rect x="35.2" y="112.2" width="5.2" height="4.6" fill="#eef3fb" stroke="#4a6fa5" stroke-width="0.6"/><path d="M36.2 115.2 h3.2" stroke="#4a6fa5" stroke-width="0.6"/><rect x="13.4" y="121.4" width="3.2" height="3.2" fill="none" stroke="#aaa" stroke-width="0.5"/><path d="M14.1 123.0 h1.8" stroke="#888" stroke-width="0.5"/><circle cx="22.7" cy="121.2" r="1.1" fill="none" stroke="#555" stroke-width="0.6"/><path d="M22.7 122.3 v2.4 M21.4 123.2 h2.6 M22.7 124.7 l-1 1.2 M22.7 124.7 l1 1.2" stroke="#555" stroke-width="0.6" fill="none"/><rect x="20.7" y="129.8" width="3.2" height="3.2" fill="none" stroke="#aaa" stroke-width="0.5"/><path d="M21.400000000000002 131.4 h1.8" stroke="#888" stroke-width="0.5"/><circle cx="29.8" cy="131.6" r="2.8" fill="#fbeef0" stroke="#d9a0a8" stroke-width="0.6"/><circle cx="29.8" cy="130.4" r="0.9" fill="none" stroke="#c05060" stroke-width="0.5"/><ellipse cx="38.1" cy="139.9" rx="2.8" ry="1.9" fill="#dde9f7" stroke="#7d9ccc" stroke-width="0.6"/><rect x="20.7" y="146.7" width="3.2" height="3.2" fill="none" stroke="#aaa" stroke-width="0.5"/><path d="M21.400000000000002 148.3 h1.8" stroke="#888" stroke-width="0.5"/><circle cx="29.8" cy="148.5" r="2.8" fill="#fbeef0" stroke="#d9a0a8" stroke-width="0.6"/><circle cx="29.8" cy="147.3" r="0.9" fill="none" stroke="#c05060" stroke-width="0.5"/><ellipse cx="38.1" cy="156.8" rx="2.8" ry="1.9" fill="#dde9f7" stroke="#7d9ccc" stroke-width="0.6"/><rect x="20.7" y="163.6" width="3.2" height="3.2" fill="none" stroke="#aaa" stroke-width="0.5"/><path d="M21.400000000000002 165.2 h1.8" stroke="#888" stroke-width="0.5"/><circle cx="29.8" cy="165.4" r="2.8" fill="#fbeef0" stroke="#d9a0a8" stroke-width="0.6"/><circle cx="29.8" cy="164.2" r="0.9" fill="none" stroke="#c05060" stroke-width="0.5"/><ellipse cx="38.1" cy="173.6" rx="2.8" ry="1.9" fill="#dde9f7" stroke="#7d9ccc" stroke-width="0.6"/><ellipse cx="38.1" cy="182.1" rx="2.8" ry="1.9" fill="#dde9f7" stroke="#7d9ccc" stroke-width="0.6"/><rect x="20.7" y="188.9" width="3.2" height="3.2" fill="none" stroke="#aaa" stroke-width="0.5"/><path d="M21.400000000000002 190.5 h1.8" stroke="#888" stroke-width="0.5"/><circle cx="29.8" cy="190.7" r="2.8" fill="#fbeef0" stroke="#d9a0a8" stroke-width="0.6"/><circle cx="29.8" cy="189.5" r="0.9" fill="none" stroke="#c05060" stroke-width="0.5"/><ellipse cx="38.1" cy="199.0" rx="2.8" ry="1.9" fill="#dde9f7" stroke="#7d9ccc" stroke-width="0.6"/><rect x="13.4" y="205.8" width="3.2" height="3.2" fill="none" stroke="#aaa" stroke-width="0.5"/><path d="M14.1 207.4 h1.8" stroke="#888" stroke-width="0.5"/><path d="M21.8 204.8 h2.6 l2.4 2 v2.6 l-1 1 h-2.8 l-2.6-1.8 v-2.6z" fill="#e4eef8" stroke="#7a8ea8" stroke-width="0.6"/><path d="M22.8 204.8 v3 l2.6 1.6" fill="none" stroke="#7a8ea8" stroke-width="0.5"/><rect x="27.6" y="214.0" width="5.4" height="3.6" rx="0.7" fill="#fbeef0" stroke="#e6a8b2" stroke-width="0.6"/><path d="M28.5 215.8 h3.6" stroke="#e07a8a" stroke-width="0.8"/><rect x="27.6" y="222.5" width="5.4" height="3.6" rx="0.7" fill="#fbeef0" stroke="#e6a8b2" stroke-width="0.6"/><path d="M28.5 224.3 h3.6" stroke="#e07a8a" stroke-width="0.8"/><rect x="27.6" y="230.9" width="5.4" height="3.6" rx="0.7" fill="#fbeef0" stroke="#e6a8b2" stroke-width="0.6"/><path d="M28.5 232.7 h3.6" stroke="#e07a8a" stroke-width="0.8"/><rect x="27.6" y="239.4" width="5.4" height="3.6" rx="0.7" fill="#fbeef0" stroke="#e6a8b2" stroke-width="0.6"/><path d="M28.5 241.2 h3.6" stroke="#e07a8a" stroke-width="0.8"/><rect x="27.6" y="247.8" width="5.4" height="3.6" rx="0.7" fill="#fbeef0" stroke="#e6a8b2" stroke-width="0.6"/><path d="M28.5 249.6 h3.6" stroke="#e07a8a" stroke-width="0.8"/><rect x="27.6" y="256.2" width="5.4" height="3.6" rx="0.7" fill="#fbeef0" stroke="#e6a8b2" stroke-width="0.6"/><path d="M28.5 258.0 h3.6" stroke="#e07a8a" stroke-width="0.8"/><rect x="27.6" y="264.7" width="5.4" height="3.6" rx="0.7" fill="#fbeef0" stroke="#e6a8b2" stroke-width="0.6"/><path d="M28.5 266.5 h3.6" stroke="#e07a8a" stroke-width="0.8"/><rect x="27.6" y="273.1" width="5.4" height="3.6" rx="0.7" fill="#fbeef0" stroke="#e6a8b2" stroke-width="0.6"/><path d="M28.5 274.9 h3.6" stroke="#e07a8a" stroke-width="0.8"/><rect x="27.6" y="281.6" width="5.4" height="3.6" rx="0.7" fill="#fbeef0" stroke="#e6a8b2" stroke-width="0.6"/><path d="M28.5 283.4 h3.6" stroke="#e07a8a" stroke-width="0.8"/><rect x="27.6" y="290.0" width="5.4" height="3.6" rx="0.7" fill="#fbeef0" stroke="#e6a8b2" stroke-width="0.6"/><path d="M28.5 291.8 h3.6" stroke="#e07a8a" stroke-width="0.8"/><rect x="27.6" y="298.4" width="5.4" height="3.6" rx="0.7" fill="#fbeef0" stroke="#e6a8b2" stroke-width="0.6"/><path d="M28.5 300.2 h3.6" stroke="#e07a8a" stroke-width="0.8"/><rect x="27.6" y="306.9" width="5.4" height="3.6" rx="0.7" fill="#fbeef0" stroke="#e6a8b2" stroke-width="0.6"/><path d="M28.5 308.7 h3.6" stroke="#e07a8a" stroke-width="0.8"/><rect x="27.6" y="315.3" width="5.4" height="3.6" rx="0.7" fill="#fbeef0" stroke="#e6a8b2" stroke-width="0.6"/><path d="M28.5 317.1 h3.6" stroke="#e07a8a" stroke-width="0.8"/><rect x="27.6" y="323.8" width="5.4" height="3.6" rx="0.7" fill="#fbeef0" stroke="#e6a8b2" stroke-width="0.6"/><path d="M28.5 325.6 h3.6" stroke="#e07a8a" stroke-width="0.8"/><rect x="27.6" y="332.2" width="5.4" height="3.6" rx="0.7" fill="#fbeef0" stroke="#e6a8b2" stroke-width="0.6"/><path d="M28.5 334.0 h3.6" stroke="#e07a8a" stroke-width="0.8"/><rect x="27.6" y="340.6" width="5.4" height="3.6" rx="0.7" fill="#fbeef0" stroke="#e6a8b2" stroke-width="0.6"/><path d="M28.5 342.4 h3.6" stroke="#e07a8a" stroke-width="0.8"/><rect x="27.6" y="349.1" width="5.4" height="3.6" rx="0.7" fill="#fbeef0" stroke="#e6a8b2" stroke-width="0.6"/><path d="M28.5 350.9 h3.6" stroke="#e07a8a" stroke-width="0.8"/><rect x="27.6" y="357.5" width="5.4" height="3.6" rx="0.7" fill="#fbeef0" stroke="#e6a8b2" stroke-width="0.6"/><path d="M28.5 359.3 h3.6" stroke="#e07a8a" stroke-width="0.8"/><rect x="27.6" y="366.0" width="5.4" height="3.6" rx="0.7" fill="#fbeef0" stroke="#e6a8b2" stroke-width="0.6"/><path d="M28.5 367.8 h3.6" stroke="#e07a8a" stroke-width="0.8"/><rect x="27.6" y="374.4" width="5.4" height="3.6" rx="0.7" fill="#fbeef0" stroke="#e6a8b2" stroke-width="0.6"/><path d="M28.5 376.2 h3.6" stroke="#e07a8a" stroke-width="0.8"/><rect x="27.6" y="382.8" width="5.4" height="3.6" rx="0.7" fill="#fbeef0" stroke="#e6a8b2" stroke-width="0.6"/><path d="M28.5 384.6 h3.6" stroke="#e07a8a" stroke-width="0.8"/><rect x="27.6" y="391.3" width="5.4" height="3.6" rx="0.7" fill="#fbeef0" stroke="#e6a8b2" stroke-width="0.6"/><path d="M28.5 393.1 h3.6" stroke="#e07a8a" stroke-width="0.8"/><rect x="27.6" y="399.3" width="5.2" height="4.4" fill="#dce8f5" stroke="#7a9ccc" stroke-width="0.5"/><circle cx="20.8" cy="410.4" r="1.1" fill="none" stroke="#444" stroke-width="0.6"/><rect x="23.2" y="407.4" width="2" height="2" fill="none" stroke="#444" stroke-width="0.6"/><rect x="23.2" y="411.2" width="2" height="2" fill="none" stroke="#444" stroke-width="0.6"/><path d="M21.900000000000002 410.4 h1.3 M23.2 408.4 v3.8" stroke="#444" stroke-width="0.6"/><path d="M19.8 416.0 h2.2 M20.900000000000002 416.0 v3 M22.6 417.8 h2.6 v2.8 h-2.6z M22.6 419.2 h-1.2" fill="none" stroke="#444" stroke-width="0.6"/><path d="M121 60.4 l2.2 2.2 M123.2 60.4 l-2.2 2.2" stroke="#666" stroke-width="0.5"/><path d="M696 60.4 h2.6 l-1.3 1.6z" fill="#666"/><path d="M696.3 69.6 l1.2-1.2 l1.2 1.2" fill="none" stroke="#888" stroke-width="0.5"/><path d="M696.3 448.6 l1.2 1.2 l1.2-1.2" fill="none" stroke="#888" stroke-width="0.5"/><path d="M83.4 453 l-1.2 1.2 l1.2 1.2" fill="none" stroke="#888" stroke-width="0.5"/><path d="M692.6 453 l1.2 1.2 l-1.2 1.2" fill="none" stroke="#888" stroke-width="0.5"/><path d="M753 60.6 h2.8 l-1.4 1.8z" fill="#222"/><path d="M759.7 59.4 h1.4 v2.6 h-1.4z M758.9 62 h3 M760.4 62 v1.2" fill="none" stroke="#333" stroke-width="0.6"/><path d="M765.6 59.8 l2.8 2.8 M768.4 59.8 l-2.8 2.8" stroke="#333" stroke-width="0.8"/><path d="M762.8 69.6 l1.4 1.2 l-1.4 1.2z" fill="#111" stroke="#111" stroke-width="0.5"/><path d="M767.4 78.6 l1.1-1.1 l1.1 1.1" fill="none" stroke="#999" stroke-width="0.5"/><path d="M767 455 l1.2 1.2 l1.2-1.2" fill="none" stroke="#777" stroke-width="0.6"/><path d="M705 78.3 l1.6 1.5 l-1.6 1.5" fill="none" stroke="#999" stroke-width="0.5"/><path d="M713 86.8 l1.4 1.5 l-1.4 1.5" fill="none" stroke="#777" stroke-width="0.5"/><circle cx="721.6" cy="94.4" r="1" fill="none" stroke="#333" stroke-width="0.5"/><path d="M721.6 95.4 v2 M720.1999999999999 96.1 h2.8 M721.6 97.4 l-1.2 1.6 M721.6 97.4 l1.2 1.6 M720.0 99.3 h3.2" fill="none" stroke="#333" stroke-width="0.5"/><ellipse cx="721.4" cy="105.1" rx="3.1" ry="1.8" fill="none" stroke="#555" stroke-width="0.6"/><rect x="718.6" y="110.7" width="5.8" height="6" fill="#f8f8f8" stroke="#555" stroke-width="0.6"/><path d="M713 120.5 l1.4 1.5 l-1.4 1.5" fill="none" stroke="#777" stroke-width="0.5"/><path d="M719.8 132.9 l4.6-4.6" stroke="#333" stroke-width="0.6"/><path d="M719.8 141.3 l4.6-4.6 M722.0 136.8 h2.4 v2.4" fill="none" stroke="#333" stroke-width="0.6"/><path d="M719.8 149.8 l4-4 M722.4 145.0 l2.2 0 l0 2.2z" fill="#fff" stroke="#333" stroke-width="0.5"/><path d="M719.8 158.2 l4.6-4.6 M722.0 153.7 h2.4 v2.4" fill="none" stroke="#333" stroke-width="0.6"/><path d="M705 162.8 l1.6 1.5 l-1.6 1.5" fill="none" stroke="#999" stroke-width="0.5"/><path d="M713 171.2 l1.4 1.5 l-1.4 1.5" fill="none" stroke="#777" stroke-width="0.5"/><rect x="720.0" y="178.6" width="4.2" height="5" fill="#cfe0f5" stroke="#5a7fb5" stroke-width="0.5"/><path d="M720.0 180.2 h4.2 M720.0 181.8 h4.2" stroke="#5a7fb5" stroke-width="0.4"/><rect x="719.4" y="187.0" width="5.4" height="5" fill="none" stroke="#333" stroke-width="0.5"/><path d="M722.1 187.0 v5 M719.4 189.5 h5.4" stroke="#333" stroke-width="0.5"/><rect x="719.8" y="196.7" width="4.6" height="2.8" rx="1.4" fill="none" stroke="#555" stroke-width="0.5"/><rect x="719.4" y="204.9" width="5.4" height="3.2" fill="none" stroke="#333" stroke-width="0.6"/><path d="M719.4 204.9 h1.4" stroke="#333" stroke-width="1"/><rect x="719.6" y="212.4" width="5" height="5" fill="none" stroke="#333" stroke-width="0.6"/><rect x="720.6" y="213.4" width="3" height="3" fill="#666"/><rect x="719.4" y="221.6" width="5.4" height="3.6" rx="0.8" fill="none" stroke="#333" stroke-width="0.5"/><path d="M713 230.4 l1.4 1.5 l-1.4 1.5" fill="none" stroke="#777" stroke-width="0.5"/><rect x="720.0" y="237.7" width="4.2" height="5" fill="#cfe0f5" stroke="#5a7fb5" stroke-width="0.5"/><path d="M720.0 239.3 h4.2 M720.0 240.9 h4.2" stroke="#5a7fb5" stroke-width="0.4"/><rect x="719.4" y="246.4" width="5.4" height="4.8" fill="none" stroke="#444" stroke-width="0.5"/><path d="M719.4 247.8 h5.4" stroke="#444" stroke-width="0.5"/><rect x="719.6" y="254.7" width="5" height="5" fill="none" stroke="#333" stroke-width="0.6"/><rect x="720.6" y="255.7" width="3" height="3" fill="#666"/><rect x="719.4" y="263.3" width="5.4" height="4.8" fill="none" stroke="#444" stroke-width="0.5"/><path d="M719.4 264.7 h5.4" stroke="#444" stroke-width="0.5"/><rect x="719.4" y="271.8" width="5.4" height="4.8" fill="none" stroke="#444" stroke-width="0.5"/><path d="M719.4 273.1 h5.4" stroke="#444" stroke-width="0.5"/><path d="M720.0 282.6 l2-1.8 l2 1.8 l-2 1.8z" fill="none" stroke="#555" stroke-width="0.5"/><rect x="720.0" y="288.4" width="4.2" height="5" fill="#cfe0f5" stroke="#5a7fb5" stroke-width="0.5"/><path d="M720.0 290.0 h4.2 M720.0 291.6 h4.2" stroke="#5a7fb5" stroke-width="0.4"/><path d="M719.8 301.9 l4.6-4.6" stroke="#333" stroke-width="0.6"/><path d="M719.8 310.3 l4-4 M722.4 305.6 l2.2 0 l0 2.2z" fill="#fff" stroke="#333" stroke-width="0.5"/><path d="M719.8 318.8 l3.4-3.4" stroke="#333" stroke-width="0.6"/><circle cx="723.3" cy="315.1" r="1.3" fill="#111"/><path d="M719.8 327.2 l3.4-3.4" stroke="#333" stroke-width="0.6"/><circle cx="723.3" cy="323.5" r="1.3" fill="#fff" stroke="#333" stroke-width="0.5"/><path d="M719.8 335.7 l4-4 M722.4 330.9 l2.2 0 l0 2.2z" fill="#fff" stroke="#333" stroke-width="0.5"/><path d="M719.8 344.1 l4.6-4.6 M722.0 339.6 h2.4 v2.4" fill="none" stroke="#333" stroke-width="0.6"/><path d="M719.8 352.6 l4-4 M722.4 347.8 l2.2 0 l0 2.2z" fill="#fff" stroke="#333" stroke-width="0.5"/><path d="M719.8 361.0 l4.6-4.6 M722.0 356.4 h2.4 v2.4" fill="none" stroke="#333" stroke-width="0.6"/><path d="M705 365.6 l1.6 1.5 l-1.6 1.5" fill="none" stroke="#999" stroke-width="0.5"/><path d="M713 374.1 l1.4 1.5 l-1.4 1.5" fill="none" stroke="#777" stroke-width="0.5"/><circle cx="721.6" cy="381.7" r="1" fill="none" stroke="#333" stroke-width="0.5"/><path d="M721.6 382.7 v2 M720.1999999999999 383.4 h2.8 M721.6 384.7 l-1.2 1.6 M721.6 384.7 l1.2 1.6 M720.0 386.6 h3.2" fill="none" stroke="#333" stroke-width="0.5"/><path d="M719.4 394.6 h5.2 l-0.8-4 h-3.6z" fill="none" stroke="#333" stroke-width="0.5"/><ellipse cx="721.4" cy="400.9" rx="3.1" ry="1.8" fill="none" stroke="#555" stroke-width="0.6"/><ellipse cx="721.4" cy="409.3" rx="3.1" ry="1.8" fill="none" stroke="#555" stroke-width="0.6"/><path d="M720.0 417.8 l2-1.8 l2 1.8 l-2 1.8z" fill="none" stroke="#555" stroke-width="0.5"/><path d="M719.8 423.9 v4.8 M719.8 426.2 h1 M720.8 424.1 h1.6 l2 2.2 l-2 2.2 h-1.6z" fill="none" stroke="#333" stroke-width="0.5"/><circle cx="722.0" cy="435.0" r="2.2" fill="none" stroke="#333" stroke-width="0.5"/><path d="M721.4 432.5 l1.2 0.4" stroke="#333" stroke-width="0.5"/><path d="M719.8 445.6 h4.4 M720.1999999999999 443.1 a1.8 2 0 1 1 3.6 0 a1.8 1.6 0 0 1 -3.6 0" fill="none" stroke="#333" stroke-width="0.5"/><path d="M713 450.1 l1.4 1.5 l-1.4 1.5" fill="none" stroke="#777" stroke-width="0.5"/></svg>
<svg width="788" height="484" style="clip-path:inset(66px 88px 27px 80px)"><path d="M250.2 256.8 L333.2 167" stroke="#8a8a8a" stroke-width="0.8"/><path d="M251 265.9 L316 242.7" stroke="#8a8a8a" stroke-width="0.8"/><path d="M251 276.6 L319.5 315" stroke="#8a8a8a" stroke-width="0.8"/><path d="M251 284.7 L331.9 380" stroke="#8a8a8a" stroke-width="0.8"/><path d="M368.7 144.7 L415.7 126.6" fill="none" stroke="#666" stroke-width="0.75" stroke-dasharray="1.6 1.4"/><path d="M413.63 129.04 L415.7 126.6 L412.53 126.18" fill="none" stroke="#555" stroke-width="0.7"/><path d="M370.8 155.1 L416.4 157.7" fill="none" stroke="#666" stroke-width="0.75" stroke-dasharray="1.6 1.4"/><path d="M413.51 159.07 L416.4 157.7 L413.68 156.01" fill="none" stroke="#555" stroke-width="0.7"/><path d="M362 228 L417.6 207.6" fill="none" stroke="#666" stroke-width="0.75" stroke-dasharray="1.6 1.4"/><path d="M415.49 210.01 L417.6 207.6 L414.44 207.13" fill="none" stroke="#555" stroke-width="0.7"/><path d="M364.5 234.8 L417.6 237.6" fill="none" stroke="#666" stroke-width="0.75" stroke-dasharray="1.6 1.4"/><path d="M414.71 238.98 L417.6 237.6 L414.88 235.92" fill="none" stroke="#555" stroke-width="0.7"/><path d="M361.5 243.2 L418.4 264.4" fill="none" stroke="#666" stroke-width="0.75" stroke-dasharray="1.6 1.4"/><path d="M415.23 264.86 L418.4 264.4 L416.30 261.98" fill="none" stroke="#555" stroke-width="0.7"/><path d="M370.5 390.7 L416.6 385.6" fill="none" stroke="#666" stroke-width="0.75" stroke-dasharray="1.6 1.4"/><path d="M413.98 387.43 L416.6 385.6 L413.64 384.38" fill="none" stroke="#555" stroke-width="0.7"/><path d="M369 400.1 L417 409.8" fill="none" stroke="#666" stroke-width="0.75" stroke-dasharray="1.6 1.4"/><path d="M413.94 410.75 L417 409.8 L414.55 407.74" fill="none" stroke="#555" stroke-width="0.7"/><path d="M490.5 99.5 L463 111.5" fill="none" stroke="#666" stroke-width="0.75" stroke-dasharray="1.6 1.4"/><path d="M464.96 108.97 L463 111.5 L466.19 111.78" fill="none" stroke="#555" stroke-width="0.7"/><path d="M417 315.3 L369.37 321.72" stroke="#8a8a8a" stroke-width="0.8"/><path d="M368.73 319.81 L365.8 322.2 L369.26 323.73z" fill="#fff" stroke="#666" stroke-width="0.7"/><path d="M418 339.2 L369.66 331.56" stroke="#8a8a8a" stroke-width="0.8"/><path d="M369.59 329.55 L366.1 331 L368.97 333.45z" fill="#fff" stroke="#666" stroke-width="0.7"/><path d="M283.5 153 C298 156 308 170 318 186 C330 205 345 216 372 222.5" fill="none" stroke="#666" stroke-width="0.75" stroke-dasharray="1.6 1.4"/><path d="M476 106 C492 113 502 122 512 130 C524 140 532 145 541.3 145" fill="none" stroke="#666" stroke-width="0.75" stroke-dasharray="1.6 1.4"/><path d="M470.2 160.2 C485 160.5 495 165 510 171 C522 176 532 179 541.3 181" fill="none" stroke="#666" stroke-width="0.75" stroke-dasharray="1.6 1.4"/><path d="M470 200 C490 199 515 196 541.3 194" fill="none" stroke="#666" stroke-width="0.75" stroke-dasharray="1.6 1.4"/><path d="M192.3 235.5 C195 243 205 248 227.5 258.8" fill="none" stroke="#666" stroke-width="0.75" stroke-dasharray="1.6 1.4"/><path d="M269.3 400 C290 392 312 380 328 364 C345 348 360 337 390 335.5" fill="none" stroke="#666" stroke-width="0.75" stroke-dasharray="1.6 1.4"/><path d="M162.1 127.1 H279.5 L282.5 130.1 V158.7 H162.1z" fill="#fff" stroke="#2a2a2a" stroke-width="0.9"/><path d="M279.5 127.1 V130.1 H282.5" fill="none" stroke="#2a2a2a" stroke-width="0.5"/><path d="M162.9 159.29999999999998 H283.1 V130.6" fill="none" stroke="#666" stroke-width="0.6"/><path d="M135.6 197.1 H246.3 L249.3 200.1 V235.2 H135.6z" fill="#fff" stroke="#2a2a2a" stroke-width="0.9"/><path d="M246.3 197.1 V200.1 H249.3" fill="none" stroke="#2a2a2a" stroke-width="0.5"/><path d="M136.4 235.79999999999998 H249.9 V200.6" fill="none" stroke="#666" stroke-width="0.6"/><path d="M541.3 127.7 H665.0 L668.0 130.7 V164.0 H541.3z" fill="#fff" stroke="#2a2a2a" stroke-width="0.9"/><path d="M665.0 127.7 V130.7 H668.0" fill="none" stroke="#2a2a2a" stroke-width="0.5"/><path d="M542.0999999999999 164.6 H668.6 V131.2" fill="none" stroke="#666" stroke-width="0.6"/><path d="M541.3 177.4 H661.5 L664.5 180.4 V205.3 H541.3z" fill="#fff" stroke="#2a2a2a" stroke-width="0.9"/><path d="M661.5 177.4 V180.4 H664.5" fill="none" stroke="#2a2a2a" stroke-width="0.5"/><path d="M542.0999999999999 205.9 H665.1 V180.9" fill="none" stroke="#666" stroke-width="0.6"/><path d="M152.6 393.6 H265.6 L268.6 396.6 V426.8 H152.6z" fill="#fff" stroke="#2a2a2a" stroke-width="0.9"/><path d="M265.6 393.6 V396.6 H268.6" fill="none" stroke="#2a2a2a" stroke-width="0.5"/><path d="M153.4 427.40000000000003 H269.20000000000005 V397.1" fill="none" stroke="#666" stroke-width="0.6"/><ellipse cx="516" cy="93" rx="26" ry="15.5" fill="#CCE8FA" stroke="#25303a" stroke-width="1.1"/><ellipse cx="439" cy="119" rx="26" ry="16" fill="#CCE8FA" stroke="#25303a" stroke-width="1.1"/><ellipse cx="344.5" cy="153.5" rx="26.5" ry="15.7" fill="#CCE8FA" stroke="#25303a" stroke-width="1.1"/><ellipse cx="443.5" cy="160" rx="26.5" ry="16" fill="#CCE8FA" stroke="#25303a" stroke-width="1.1"/><ellipse cx="339.6" cy="235" rx="25" ry="15.5" fill="#CCE8FA" stroke="#25303a" stroke-width="1.1"/><ellipse cx="443.3" cy="200" rx="26.5" ry="15.5" fill="#CCE8FA" stroke="#25303a" stroke-width="1.1"/><ellipse cx="444" cy="238" rx="26" ry="15.5" fill="#CCE8FA" stroke="#25303a" stroke-width="1.1"/><ellipse cx="443.6" cy="274" rx="26" ry="15.5" fill="#CCE8FA" stroke="#25303a" stroke-width="1.1"/><ellipse cx="339.8" cy="326.7" rx="26" ry="15.3" fill="#CCE8FA" stroke="#25303a" stroke-width="1.1"/><ellipse cx="442.6" cy="312.4" rx="25.6" ry="15.2" fill="#CCE8FA" stroke="#25303a" stroke-width="1.1"/><ellipse cx="443.3" cy="345" rx="25.5" ry="15.2" fill="#CCE8FA" stroke="#25303a" stroke-width="1.1"/><ellipse cx="344.5" cy="394.7" rx="26" ry="15.2" fill="#CCE8FA" stroke="#25303a" stroke-width="1.1"/><ellipse cx="442.8" cy="383" rx="26" ry="15.5" fill="#CCE8FA" stroke="#25303a" stroke-width="1.1"/><ellipse cx="443.5" cy="417" rx="25.5" ry="15.2" fill="#CCE8FA" stroke="#25303a" stroke-width="1.1"/><circle cx="239.4" cy="258.6" r="6.5" fill="#FCF88A" stroke="#2a2a2a" stroke-width="1"/><path d="M239.4 265.1 V277.4 M239.4 277.4 L231.2 288.4 M239.4 277.4 L247.6 288.4" fill="none" stroke="#333" stroke-width="0.9"/><path d="M230.8 267.7 H247.8" stroke="#666" stroke-width="1.1"/><path d="M576.9 412.9 L580 402.2 L585.8 411.1 L591.1 402.2 L592.9 412" fill="none" stroke="#777" stroke-width="0.5"/><circle cx="580" cy="402.2" r="2.7" fill="#2EA8E0" stroke="#666" stroke-width="0.3"/><circle cx="591.1" cy="402.2" r="2.7" fill="#F2B722" stroke="#666" stroke-width="0.3"/><circle cx="576.9" cy="412.9" r="2.7" fill="#B98CE8" stroke="#666" stroke-width="0.3"/><circle cx="585.8" cy="411.1" r="2.7" fill="#7CC350" stroke="#666" stroke-width="0.3"/><circle cx="592.9" cy="412" r="2.7" fill="#E5202A" stroke="#666" stroke-width="0.3"/></svg>
<div class="a" style="left:474px;top:88.77px;width:80px;text-align:center;font-size:6.9px;line-height:9.66px;color:#1a1a1a;font-weight:500">故障报警</div>
<div class="a" style="left:397px;top:114.77px;width:80px;text-align:center;font-size:6.9px;line-height:9.66px;color:#1a1a1a;font-weight:500">启动洗衣</div>
<div class="a" style="left:302.5px;top:149.27px;width:80px;text-align:center;font-size:6.9px;line-height:9.66px;color:#1a1a1a;font-weight:500">洗衣控制</div>
<div class="a" style="left:401.5px;top:155.77px;width:80px;text-align:center;font-size:6.9px;line-height:9.66px;color:#1a1a1a;font-weight:500">停止洗衣</div>
<div class="a" style="left:297.6px;top:230.77px;width:80px;text-align:center;font-size:6.9px;line-height:9.66px;color:#1a1a1a;font-weight:500">设置洗衣参数</div>
<div class="a" style="left:401.3px;top:195.77px;width:80px;text-align:center;font-size:6.9px;line-height:9.66px;color:#1a1a1a;font-weight:500">调整洗衣速度</div>
<div class="a" style="left:402px;top:233.77px;width:80px;text-align:center;font-size:6.9px;line-height:9.66px;color:#1a1a1a;font-weight:500">设置洗衣时间</div>
<div class="a" style="left:401.6px;top:269.77px;width:80px;text-align:center;font-size:6.9px;line-height:9.66px;color:#1a1a1a;font-weight:500">设置洗衣模式</div>
<div class="a" style="left:297.8px;top:322.47px;width:80px;text-align:center;font-size:6.9px;line-height:9.66px;color:#1a1a1a;font-weight:500">盖子控制</div>
<div class="a" style="left:400.6px;top:308.17px;width:80px;text-align:center;font-size:6.9px;line-height:9.66px;color:#1a1a1a;font-weight:500">打开盖子</div>
<div class="a" style="left:401.3px;top:340.77px;width:80px;text-align:center;font-size:6.9px;line-height:9.66px;color:#1a1a1a;font-weight:500">关上盖子</div>
<div class="a" style="left:302.5px;top:390.47px;width:80px;text-align:center;font-size:6.9px;line-height:9.66px;color:#1a1a1a;font-weight:500">放水控制</div>
<div class="a" style="left:400.8px;top:378.77px;width:80px;text-align:center;font-size:6.9px;line-height:9.66px;color:#1a1a1a;font-weight:500">加水</div>
<div class="a" style="left:401.5px;top:412.77px;width:80px;text-align:center;font-size:6.9px;line-height:9.66px;color:#1a1a1a;font-weight:500">排水</div>
<div class="a" style="left:163.6px;top:129.00px;font-size:6.85px;line-height:9.59px;color:#111;font-weight:normal;-webkit-text-stroke:0.12px #111">一个用例包含更小的用例。一个用例可</div>
<div class="a" style="left:163.6px;top:138.60px;font-size:6.85px;line-height:9.59px;color:#111;font-weight:normal;-webkit-text-stroke:0.12px #111">以包含多个用例，一个用例可以被多个</div>
<div class="a" style="left:163.6px;top:148.20px;font-size:6.85px;line-height:9.59px;color:#111;font-weight:normal;-webkit-text-stroke:0.12px #111">用例包含。</div>
<div class="a" style="left:137.1px;top:199.00px;font-size:6.85px;line-height:9.59px;color:#111;font-weight:normal;-webkit-text-stroke:0.12px #111">Actor 是在系统之外，和系统交互的</div>
<div class="a" style="left:137.1px;top:208.60px;font-size:6.85px;line-height:9.59px;color:#111;font-weight:normal;-webkit-text-stroke:0.12px #111">对象的角色抽象，可以是人，也可也</div>
<div class="a" style="left:137.1px;top:218.20px;font-size:6.85px;line-height:9.59px;color:#111;font-weight:normal;-webkit-text-stroke:0.12px #111">是外部的设备、外部的系统。</div>
<div class="a" style="left:542.8px;top:129.61px;font-size:6.85px;line-height:9.59px;color:#111;font-weight:normal;-webkit-text-stroke:0.12px #111">一个用例因为扩展点的出现而扩展出的新</div>
<div class="a" style="left:542.8px;top:139.21px;font-size:6.85px;line-height:9.59px;color:#111;font-weight:normal;-webkit-text-stroke:0.12px #111">的用例，被扩展出来的用例只有在扩展点</div>
<div class="a" style="left:542.8px;top:148.81px;font-size:6.85px;line-height:9.59px;color:#111;font-weight:normal;-webkit-text-stroke:0.12px #111">出现的时候才会执行。</div>
<div class="a" style="left:542.8px;top:179.31px;font-size:6.85px;line-height:9.59px;color:#111;font-weight:normal;-webkit-text-stroke:0.12px #111">UseCase 是 Actor 使用系统的场景的抽</div>
<div class="a" style="left:542.8px;top:188.91px;font-size:6.85px;line-height:9.59px;color:#111;font-weight:normal;-webkit-text-stroke:0.12px #111">象，是从用户角度对功能需求的描述。</div>
<div class="a" style="left:154.1px;top:395.50px;font-size:6.85px;line-height:9.59px;color:#111;font-weight:normal;-webkit-text-stroke:0.12px #111">是用例之间的一种抽象关系，多个类</div>
<div class="a" style="left:154.1px;top:405.11px;font-size:6.85px;line-height:9.59px;color:#111;font-weight:normal;-webkit-text-stroke:0.12px #111">似的用例可以抽象为一个用例。</div>
<svg width="788" height="484"><path d="M376.8 131.9 L375.0 134.4 L376.8 136.9" fill="none" stroke="#444" stroke-width="0.9"/><path d="M398.3 131.9 L400.1 134.4 L398.3 136.9" fill="none" stroke="#444" stroke-width="0.9"/><text x="378.40000000000003" y="135.9" font-size="6" font-family="Liberation Sans, sans-serif" fill="#333">include</text><path d="M376.8 165.4 L375.0 167.9 L376.8 170.4" fill="none" stroke="#444" stroke-width="0.9"/><path d="M398.3 165.4 L400.1 167.9 L398.3 170.4" fill="none" stroke="#444" stroke-width="0.9"/><text x="378.40000000000003" y="169.4" font-size="6" font-family="Liberation Sans, sans-serif" fill="#333">include</text><path d="M374.59999999999997 205.1 L372.79999999999995 207.6 L374.59999999999997 210.1" fill="none" stroke="#444" stroke-width="0.9"/><path d="M396.09999999999997 205.1 L397.9 207.6 L396.09999999999997 210.1" fill="none" stroke="#444" stroke-width="0.9"/><text x="376.2" y="209.1" font-size="6" font-family="Liberation Sans, sans-serif" fill="#333">include</text><path d="M381.7 227.7 L379.9 230.2 L381.7 232.7" fill="none" stroke="#444" stroke-width="0.9"/><path d="M403.2 227.7 L405.0 230.2 L403.2 232.7" fill="none" stroke="#444" stroke-width="0.9"/><text x="383.3" y="231.7" font-size="6" font-family="Liberation Sans, sans-serif" fill="#333">include</text><path d="M378.7 260.2 L376.9 262.7 L378.7 265.2" fill="none" stroke="#444" stroke-width="0.9"/><path d="M400.2 260.2 L402.0 262.7 L400.2 265.2" fill="none" stroke="#444" stroke-width="0.9"/><text x="380.3" y="264.2" font-size="6" font-family="Liberation Sans, sans-serif" fill="#333">include</text><path d="M385.2 376.0 L383.4 378.5 L385.2 381.0" fill="none" stroke="#444" stroke-width="0.9"/><path d="M406.7 376.0 L408.5 378.5 L406.7 381.0" fill="none" stroke="#444" stroke-width="0.9"/><text x="386.8" y="380.0" font-size="6" font-family="Liberation Sans, sans-serif" fill="#333">include</text><path d="M380.7 412.2 L378.9 414.7 L380.7 417.2" fill="none" stroke="#444" stroke-width="0.9"/><path d="M402.2 412.2 L404.0 414.7 L402.2 417.2" fill="none" stroke="#444" stroke-width="0.9"/><text x="382.3" y="416.2" font-size="6" font-family="Liberation Sans, sans-serif" fill="#333">include</text><path d="M454.59999999999997 98.1 L452.79999999999995 100.6 L454.59999999999997 103.1" fill="none" stroke="#444" stroke-width="0.9"/><path d="M475.09999999999997 98.1 L476.9 100.6 L475.09999999999997 103.1" fill="none" stroke="#444" stroke-width="0.9"/><text x="456.2" y="102.1" font-size="6" font-family="Liberation Sans, sans-serif" fill="#333">extend</text></svg>
<div class="a" style="left:230.6px;top:289.84px;font-size:6.8px;line-height:9.52px;color:#1a1a1a;font-weight:500;">操作员</div>
<div class="a" style="left:598px;top:398.07px;font-size:7.9px;line-height:11.06px;color:#2a2a2a;font-weight:normal;-webkit-text-stroke:0.25px #2a2a2a">MBSE</div>
<div class="a" style="left:623.2px;top:399.24px;font-size:6.8px;line-height:9.52px;color:#E8843E;font-weight:normal;">with</div>
<div class="a" style="left:597.6px;top:409.81px;font-size:7.7px;line-height:10.78px;color:#8a8a8a;font-weight:normal;">火龙果科技</div>
</div></body></html>
